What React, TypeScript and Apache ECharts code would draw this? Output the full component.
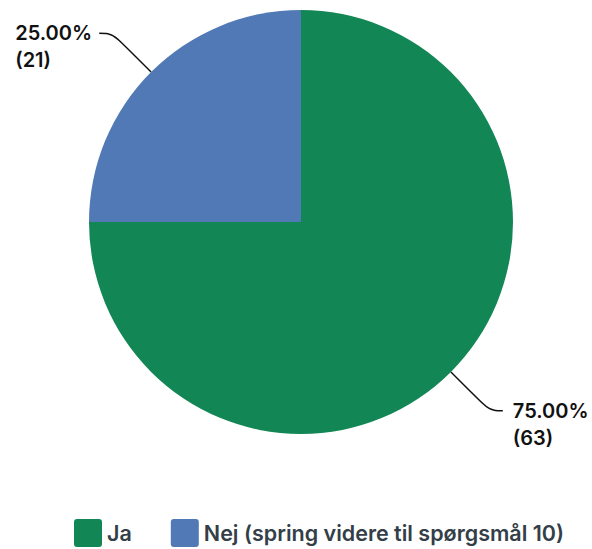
import React, { useEffect, useRef } from "react";
import * as echarts from "echarts";

const categories = ["Ja", "Nej (spring videre til spørgsmål 10)"];
const values = [63, 21];
const colors = ["#138656", "#5079b5"];

export default function App() {
  const ref = useRef<HTMLDivElement>(null);
  useEffect(() => {
    if (!ref.current) return;
    const chart = echarts.init(ref.current, undefined, { renderer: "svg" });
    const iconPath =
      "path://M3,0 H25 Q28,0 28,3 V25 Q28,28 25,28 H3 Q0,28 0,25 V3 Q0,0 3,0 Z";
    chart.setOption({
      animation: false,
      color: colors,
      legend: {
        data: categories.map((c) => ({ name: c, icon: iconPath })),
        left: 74,
        top: 519,
        padding: 0,
        itemWidth: 28,
        itemHeight: 28,
        itemGap: 39,
        textStyle: {
          fontFamily: "Inter",
          fontSize: 21.5,
          fontWeight: 600,
          color: "#333e48",
        },
      },
      series: [
        {
          type: "pie",
          center: [301, 222],
          radius: 212,
          startAngle: 90,
          clockwise: true,
          avoidLabelOverlap: false,
          data: categories.map((c, i) => ({ name: c, value: values[i] })),
          label: {
            show: true,
            position: "outside",
            formatter: (p: any) =>
              `{e| }\n{t|${p.percent.toFixed(2)}%}\n{t|(${p.value})}`,
            fontFamily: "Inter",
            fontSize: 20,
            fontWeight: 600,
            lineHeight: 27,
            color: "#111111",
            distanceToLabelLine: 10,
            rich: {
              e: {
                fontFamily: "Inter",
                fontSize: 20,
                lineHeight: 27,
                width: 74,
              },
              t: {
                fontFamily: "Inter",
                fontSize: 20,
                fontWeight: 600,
                lineHeight: 27,
                color: "#111111",
                width: 74,
                align: "left",
              },
            },
          },
          labelLine: {
            show: true,
            length: 55,
            length2: 13,
            smooth: 0.4,
            lineStyle: { color: "#111111", width: 1.5 },
          },
          emphasis: { disabled: true },
        },
      ],
    });
    return () => chart.dispose();
  }, []);
  return (
    <div
      ref={ref}
      style={{ position: "absolute", left: 0, top: 0, width: 592, height: 549 }}
    />
  );
}
